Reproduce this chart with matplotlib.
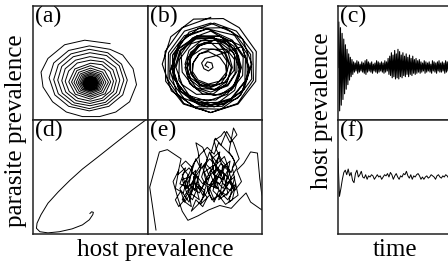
import numpy as np
import matplotlib
matplotlib.use("Agg")
import matplotlib.pyplot as plt

plt.rcParams['font.family'] = ['Liberation Serif', 'DejaVu Serif']

# (a) damped spiral, host vs parasite prevalence (panel units 0-100)
a_x = [67, 45, 27.5, 13, 7, 8.7, 17, 29, 43, 58, 72, 84, 90, 87, 78, 67,
       49, 31, 18, 14, 19, 31, 49, 66, 78, 82, 77, 65,
       49, 33, 22, 18, 22, 34, 49, 64.5, 75, 79, 75, 64,
       49.5, 35, 25, 21.5, 25.5, 36, 49.5, 63, 72.5, 75.5, 72, 62,
       49.5, 37, 28, 25, 28.5, 37.5, 49.5, 61.5, 70, 72.5, 69.5, 61,
       50, 38.5, 31, 28, 31.5, 39, 50, 60, 67.5, 70, 67, 60,
       50, 36.4, 31.1, 36.8, 50, 62.7, 67.6, 62.2,
       50, 38.2, 33.5, 38.7, 50, 60.9, 65.6, 60.6,
       50, 39.8, 35.6, 40.2, 50, 59.5, 63.4, 59.2,
       50, 41.1, 37.6, 41.4, 50, 58.3, 61.5, 58,
       50, 42.3, 39.3, 42.6, 50, 57.2, 59.9, 57,
       50, 43.4, 40.7, 43.6, 50, 56.2, 58.6, 56.1,
       50, 44.3, 42, 44.6, 50, 55.4, 57.4, 55.2,
       50, 45.1, 43.1, 45.3, 50, 54.7, 56.4, 54.5,
       50, 45.8, 44, 46, 50, 54, 55.5, 53.9,
       50, 46.4, 44.9, 46.6, 50, 53.4, 54.7, 53.3,
       50, 47, 45.7, 47.1, 50, 52.9, 54, 52.8,
       50, 47.4, 46.3, 47.5, 50, 52.4, 53.4, 52.4,
       50, 47.8, 46.9, 47.9, 50, 52.1, 52.9, 52,
       50, 48.1, 47.4, 48.2, 50, 51.7, 52.4, 51.6,
       50, 48.5, 47.9, 48.6, 50, 51.4, 51.9, 51.3,
       50, 48.9, 48.4, 49, 50, 51, 51.4, 50.9, 50, 49.3, 49, 49.5, 50, 50.5,
       50.7, 50, 49.7, 50]
a_y = [67, 70, 66, 54, 42, 29, 16, 7, 3, 3, 7, 16, 31, 45, 57, 62,
       65, 61, 50, 37, 22, 12, 8, 12, 22, 35, 49, 59,
       62, 58, 48.5, 35.5, 23, 13.5, 10, 14, 23, 35, 47.5, 56.5,
       59, 55.5, 47, 35, 23.5, 15, 12.5, 15.5, 24, 35, 46, 53.5,
       55.6, 52.5, 45, 34.5, 24.5, 17, 14.5, 17.5, 25, 34.5, 44, 51,
       52.5, 50, 43, 34, 25, 19, 16.5, 19, 25.5, 34, 42.5, 48.5,
       49.8, 44.8, 33.5, 22.6, 18.3, 23, 33.5, 43.7,
       47.7, 43.4, 33.3, 23.9, 20.1, 24.1, 33.2, 42,
       45.5, 41.8, 33.1, 25, 21.5, 25.3, 33, 40.7,
       43.7, 40.4, 33, 26.1, 23, 26.4, 33, 39.6,
       42.2, 39.4, 32.9, 26.9, 24.3, 27.1, 32.9, 38.7,
       40.9, 38.5, 32.8, 27.5, 25.4, 27.7, 32.8, 37.8,
       39.8, 37.7, 32.7, 28.1, 26.3, 28.2, 32.7, 37,
       38.7, 36.9, 32.7, 28.5, 27, 28.7, 32.7, 36.4,
       37.9, 36.3, 32.6, 29, 27.7, 29.3, 32.6, 35.8,
       37, 35.7, 32.6, 29.6, 28.4, 29.8, 32.6, 35.3,
       36.4, 35.2, 32.6, 30.1, 29, 30.2, 32.6, 34.9,
       35.8, 34.8, 32.5, 30.4, 29.5, 30.6, 32.5, 34.5,
       35.2, 34.4, 32.5, 30.8, 30, 30.9, 32.5, 34.1,
       34.7, 34, 32.5, 31.1, 30.5, 31.2, 32.5, 33.8,
       34.2, 33.7, 32.5, 31.4, 31, 31.5, 32.5, 33.5,
       33.8, 33.4, 32.5, 31.7, 31.5, 31.8, 32.5, 33.2, 33.3, 33, 32.5, 32, 32, 32.2,
       32.5, 32.8, 32.5, 32.3]

# (b) quasi-periodic rings
b_x = [55, 30, 15, 15.5, 31, 55, 78.5, 92.5, 92, 77.5,
       58, 36, 23, 23, 37, 58, 78.5, 91, 90, 77.5,
       52, 33, 21.5, 22, 34, 52, 69.5, 80, 79.5, 69,
       55, 39, 29, 30, 40, 55, 70, 78, 78, 69,
       58, 45, 37, 37.5, 45.5, 58, 70, 76.5, 76, 69,
       55, 45, 39, 39, 45.5, 55, 64, 69, 68, 63,
       53, 45, 40, 39, 44, 53, 62.5, 69, 69, 63,
       55, 44, 37, 36.5, 43, 55, 67, 75.5, 76, 68,
       58, 44, 35, 34.5, 43, 58, 73, 83, 83.5, 74,
       55, 38, 27.5, 27, 37.5, 55, 73, 85, 85.5, 74,
       52, 32, 19.5, 19, 31.5, 52, 73, 87, 87, 74,
       55, 32, 18, 17.5, 31.5, 55, 79, 94.5, 95, 80,
       66, 40, 20, 12.5, 20.5, 41, 65, 84, 91, 83,
       67.5, 44.5, 27, 20.5, 27.5, 45, 66.5, 83, 89, 82,
       63, 43, 28, 22.5, 28.5, 44, 62, 76, 81, 75,
       58, 42, 29, 24.5, 30, 42.5, 57.5, 69, 73, 68,
       60, 46.5, 36, 32.5, 37, 47, 59, 68, 71, 67,
       58, 47.5, 38.5, 34.5, 37.5, 47, 59, 69.5, 74, 70.5,
       63, 49, 37.5, 32.5, 36.5, 48.5, 63.5, 76.5, 82, 77.5,
       58, 41.5, 27, 21.5, 26.5, 41, 59.5, 74.5, 81, 75.5,
       63, 43, 26.5, 19.5, 25.5, 42.5, 64, 81.5, 89, 82.5,
       70, 58, 50, 47, 49, 53, 57, 56, 52, 50, 53]
b_y = [90, 81, 60, 34, 14, 6.5, 14.5, 35, 59, 78,
       85, 77, 58, 36, 18, 11.5, 19, 36, 57.5, 74,
       80, 73, 57, 37, 22, 16.5, 22.5, 38, 56, 70,
       78, 72, 58, 42, 29, 24.5, 30, 42.5, 57.5, 69,
       70, 65, 54, 40.5, 30, 26.5, 31, 41, 53, 62,
       62, 58, 49, 39, 31, 28.5, 32, 39.5, 48, 55,
       60, 58, 51, 42.5, 35, 31.5, 34, 42, 52, 61,
       68, 65, 56, 44, 34, 29.5, 33, 43.5, 57, 68,
       70, 66, 54.5, 39.5, 27, 21.5, 26, 39, 55, 69,
       72, 67, 53, 35, 19.5, 13.5, 19, 34, 54, 70,
       80, 74, 57.5, 36, 19, 11.5, 18, 36, 58, 77,
       85, 78, 59, 35, 14.5, 6.5, 14, 34, 60, 81,
       89, 88.5, 73, 49, 25.5, 11.5, 12, 26.5, 49, 71,
       81, 80.5, 67, 46, 25.5, 13, 14, 26, 46, 65,
       73.5, 73, 61, 43, 25.5, 15, 15.5, 26, 43, 59,
       72, 71, 61, 46, 31, 22.5, 23, 32, 46, 59,
       70, 69.5, 61, 49, 37, 30.5, 31, 38, 49, 59,
       62, 62.5, 56.5, 46, 35, 27.5, 27, 34, 46, 58.5,
       67, 67.5, 59.5, 46, 32, 22.5, 22, 31, 46, 61.5,
       72, 72, 62.5, 46, 29, 18, 17.5, 28, 46, 64.5,
       73.5, 74, 62.5, 43, 23, 10, 9.5, 22, 43, 64.5,
       60, 56, 54, 50, 45, 43, 46, 50, 51, 48, 46]

# (d) stable approach to equilibrium
d_x = [103, 98, 86, 72, 57, 43, 32, 22, 13, 7, 3.5, 3, 6, 13, 23, 34,
       43, 49, 52, 52.5, 51, 49.5]
d_y = [103, 100, 91, 80, 68, 57, 47, 37, 27, 17, 9.5, 5, 2, 1, 2, 4.5,
       8, 12.5, 17, 19, 19.5, 18]

# (e) chaotic trajectory
e_x = [7, 1.5, 10, 17, 29, 26, 33, 28, 36, 30, 38, 34, 42, 37, 45, 40, 47, 43, 50, 46,
       54, 49, 57, 52, 60, 56, 63, 58, 66, 62, 70, 65, 72, 68, 76, 71, 79, 74, 80, 75,
       69, 64, 59, 55, 61, 67, 72, 66, 60, 64, 70, 74, 69, 62, 58, 53, 57, 63, 67, 61,
       55, 59, 65, 71, 76, 82, 78, 84, 90, 96, 98, 100, 100, 90, 86, 80, 73, 63, 53, 44,
       35, 30, 26, 22, 27, 24, 31, 35, 29, 33, 39, 36, 41, 44, 38, 42, 46, 44, 42, 48,
       52, 47, 51, 48, 44, 39, 34, 30, 37, 33, 41, 36, 29, 24, 27, 32, 38, 45, 50, 55,
       60, 57, 63, 68, 73, 70, 65, 60, 58, 64, 67, 72, 78, 75, 71, 76, 73, 68, 63, 66,
       72, 77, 74, 68, 62, 56, 52, 56, 62, 58, 54, 50, 54, 48, 42, 46, 52, 48, 42, 38, 44,
       50, 56, 62, 58, 64, 70, 66, 60, 54, 48, 52, 46, 40, 34, 30, 36, 42, 38, 32, 28,
       34, 40, 46, 52, 58, 62, 68, 74, 78, 72, 76, 70, 64, 58, 54, 60, 66, 62, 56, 50,
       44, 38]
e_y = [3.5, 41, 72, 74, 66, 52, 58, 44, 40, 30, 24, 48, 56, 36, 30, 50, 62, 44, 38, 26,
       34, 54, 60, 44, 40, 66, 72, 52, 48, 30, 36, 58, 64, 44, 50, 28, 34, 58, 66, 80,
       90, 78, 84, 70, 62, 68, 54, 40, 46, 56, 50, 42, 34, 38, 28, 36, 48, 44, 52, 58,
       52, 42, 36, 46, 38, 46, 56, 62, 72, 71, 49, 33, 21, 28, 36, 30, 22.5, 25, 21, 16,
       12, 20, 32, 46, 56, 40, 36, 52, 60, 64, 58, 44, 38, 50, 54, 66, 58, 72, 80, 76,
       66, 50, 42, 34, 42, 30, 36, 48, 50, 40, 46, 28, 38, 30, 24, 30, 42, 36, 46, 56,
       50, 38, 32, 40, 48, 58, 64, 74, 82, 86, 90, 80, 87, 93, 72, 64, 54, 60, 50, 44,
       38, 44, 30, 26, 34, 30, 40, 46, 54, 62, 72, 60, 50, 44, 52, 40, 32, 24, 30, 20, 26,
       34, 44, 40, 52, 62, 56, 48, 60, 66, 58, 48, 38, 46, 40, 52, 58, 50, 36, 28, 40,
       48, 62, 70, 76, 70, 80, 74, 68, 58, 48, 40, 30, 36, 30, 40, 48, 58, 68, 56, 62,
       54, 44]

# (c) host prevalence vs time, oscillating
c_host = [46, 86, 8, 81, 13, 76, 18, 71, 23, 66, 27, 62, 31, 58, 35, 55, 38, 53, 40,
          51, 42, 50, 43, 52, 41, 51, 42, 49, 43, 51, 42, 50, 41, 52, 40, 53, 42, 51, 43,
          50, 42, 51, 41, 49, 43, 50, 42, 52, 41, 51, 42, 50, 43, 51, 42, 50, 41, 52, 42,
          51, 43,
          54, 40, 56, 39, 59, 37, 57, 38, 61, 36, 58, 37, 62, 36, 60, 38, 57, 37, 59, 39,
          56, 38, 58, 40, 55, 38, 57, 40, 54, 39, 56, 41, 53, 40, 54, 41, 52, 42, 53, 41,
          51, 42, 50, 43, 52, 41, 51, 42, 50, 43, 51, 42, 49, 41, 52, 43, 51, 42, 50, 41,
          51, 43, 52, 42, 50, 42, 51, 43, 50, 41, 52, 42, 51, 43, 50, 42, 51, 43, 50, 42]

# (f) host prevalence vs time, noisy steady state
f_host = [66, 33, 40, 48, 54, 56, 52, 57, 51, 54, 47, 45, 53, 56, 50, 52, 55, 50, 49, 52,
          48, 51, 50, 52, 51, 48, 50, 52, 50, 51, 48, 50, 52, 51, 53, 50, 54, 52, 48, 51,
          53, 50, 48, 51, 50, 53, 52, 55, 51, 49, 52, 48, 51, 50, 52, 53, 51, 48, 50, 48,
          50, 51, 49, 50, 52, 51, 50, 48, 51, 52, 50, 49, 51, 50, 52, 51, 49, 50, 51, 53]

W, H = 448, 261
fig = plt.figure(figsize=(W / 100, H / 100), dpi=100)


def box(x0, y0, x1, y1):
    # pixel box (top-left origin) -> axes
    ax = fig.add_axes([x0 / W, 1 - y1 / H, (x1 - x0) / W, (y1 - y0) / H])
    ax.set_xticks([])
    ax.set_yticks([])
    for s in ax.spines.values():
        s.set_linewidth(1.1)
        s.set_color('#222222')
    return ax


def label(ax, txt):
    ax.text(0.015, 1.0, txt, transform=ax.transAxes, ha='left', va='top',
            fontsize=17)


lw = 0.7
ax_a = box(33, 6, 148, 120)
ax_a.plot(a_x, a_y, color='k', lw=lw)
label(ax_a, '(a)')

ax_b = box(148, 6, 262, 120)
ax_b.plot(b_x, b_y, color='k', lw=0.8)
label(ax_b, '(b)')

ax_d = box(33, 120, 148, 234)
ax_d.plot(d_x, d_y, color='k', lw=lw)
label(ax_d, '(d)')

ax_e = box(148, 120, 262, 234)
ax_e.plot(e_x, e_y, color='k', lw=lw)
label(ax_e, '(e)')

for ax in (ax_a, ax_b, ax_d, ax_e):
    ax.set_xlim(0, 100)
    ax.set_ylim(0, 100)

ax_c = box(338, 6, 453, 120)
ax_c.plot(np.arange(len(c_host)), c_host, color='k', lw=0.8)
ax_c.set_xlim(0, len(c_host) - 1)
ax_c.set_ylim(0, 100)
label(ax_c, '(c)')

ax_f = box(338, 120, 453, 234)
ax_f.plot(np.arange(len(f_host)), f_host, color='k', lw=0.7)
ax_f.set_xlim(0, len(f_host) - 1)
ax_f.set_ylim(0, 100)
label(ax_f, '(f)')

fig.text(16 / W, 1 - 131 / H, 'parasite prevalence', rotation=90,
         ha='center', va='center', fontsize=18)
fig.text(155.5 / W, 1 - 256 / H, 'host prevalence', ha='center',
         va='baseline', fontsize=18)
fig.text(395.5 / W, 1 - 256 / H, 'time', ha='center', va='baseline',
         fontsize=18)
fig.text(322 / W, 1 - 111 / H, 'host prevalence', rotation=90,
         ha='center', va='center', fontsize=18)

fig.savefig('out.png', dpi=100)
